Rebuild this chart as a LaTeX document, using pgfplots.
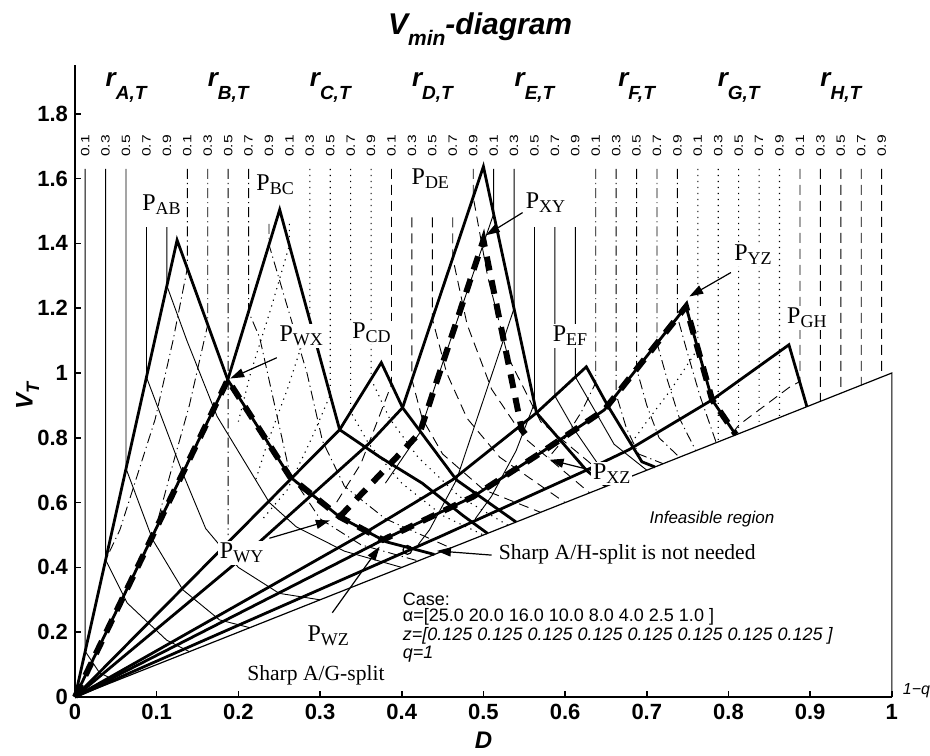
\documentclass[border=0pt]{standalone}
\usepackage{fontspec}
\setmainfont{Liberation Sans}
\newfontfamily\tms{Liberation Serif}
\usepackage{pgfplots}
\pgfplotsset{compat=1.18}
\usetikzlibrary{arrows.meta}

\tikzset{
  sA/.style={mark=none, line width=0.45pt},
  sB/.style={mark=none, line width=0.45pt, dash pattern=on 5pt off 2pt on 0.6pt off 2pt},
  sC/.style={mark=none, line width=0.55pt, dash pattern=on 0.6pt off 2.4pt},
  sD/.style={mark=none, line width=0.45pt, dash pattern=on 5pt off 3pt},
  thk/.style={mark=none, line width=1.4pt},
  thd/.style={mark=none, line width=3pt, dash pattern=on 7pt off 5pt},
  arr/.style={mark=none, line width=0.6pt, -{Triangle[length=7pt,width=4.5pt]}},
  toplab/.style={rotate=90, inner sep=0pt, font=\fontsize{6}{6}\selectfont},
  plab/.style={fill=white, inner sep=1pt},
}
\newcommand\PP[1]{{\tms\fontsize{12}{12}\selectfont P\raisebox{-0.35ex}{\fontsize{9}{9}\selectfont #1}}}
\newcommand\rr[1]{{\fontsize{13}{13}\selectfont\bfseries\itshape r\raisebox{-0.95ex}{\fontsize{9.5}{9.5}\selectfont #1,T}}}
\newcommand\rv[1]{\scalebox{1.3}[1]{#1}}

\begin{document}
\begin{tikzpicture}
\begin{axis}[
  scale only axis, width=408.5pt, height=316pt,
  xmin=0, xmax=1, ymin=0, ymax=1.95,
  axis lines=left, axis line style={-, line width=1.3pt},
  xtick={0,0.1,0.2,0.3,0.4,0.5,0.6,0.7,0.8,0.9,1},
  ytick={0,0.2,0.4,0.6,0.8,1,1.2,1.4,1.6,1.8},
  tick align=inside, major tick length=3pt, tick style={line width=0.8pt, black},
  tick label style={font=\fontsize{11}{11}\selectfont\bfseries},
  /pgf/number format/assume math mode=true,
  clip=false,
  unbounded coords=jump,
]
% frame of the whole picture
\path (axis cs:-0.0918,-0.1605) rectangle (axis cs:1.0465,2.151);

% boundary of the feasible region
\addplot[mark=none, line width=0.6pt] coordinates {(0,0) (1,1) (1,0)};

% group A, solid
\addplot[sA] coordinates {
 (0.0125,1.63) (0.0125,0.141) (0.03,0.075) (0.05,0.05) (nan,nan)
 (0.0375,1.63) (0.0375,0.423) (0.064,0.29) (0.112,0.176) (0.14,0.14) (nan,nan)
 (0.0625,1.63) (0.0625,0.705) (0.095,0.486) (0.132,0.331) (0.177,0.238) (0.214,0.214) (nan,nan)
 (0.0875,1.45) (0.0875,0.987) (0.132,0.69) (0.16,0.52) (0.2,0.4) (0.25,0.32) (0.3,0.3) (nan,nan)
 (0.1125,1.45) (0.1125,1.269) (0.137,1.10) (0.174,0.866) (0.238,0.6) (0.271,0.525) (0.33,0.45) (0.40,0.40)
};
% group B, dash-dot
\addplot[sB] coordinates {
 (0.1375,1.63) (0.1375,1.323) (0.12,1.10) (0.098,0.856) (0.055,0.516) (0.0375,0.423) (nan,nan)
 (0.1625,1.63) (0.1625,1.149) (0.14,0.9) (0.12,0.72) (0.095,0.486) (nan,nan)
 (0.1875,1.63) (0.1875,0.5) (nan,nan)
 (0.2125,1.63) (0.2125,1.189) (0.226,1.11) (0.263,0.69) (0.3,0.55) (0.35,0.47) (0.42,0.42) (nan,nan)
 (0.2375,1.46) (0.2375,1.396) (0.284,1.0) (0.303,0.79) (0.33,0.65) (0.38,0.55) (0.46,0.46)
};
% group C, dotted
\addplot[sC] coordinates {
 (0.2625,1.46) (0.2625,1.394) (0.24,1.2) (0.215,1.0) (0.2,0.85) (nan,nan)
 (0.2875,1.63) (0.2875,1.163) (0.26,0.95) (0.235,0.78) (0.22,0.66) (nan,nan)
 (0.3125,1.63) (0.3125,0.932) (0.29,0.8) (0.26,0.64) (0.23,0.55) (nan,nan)
 (0.3375,1.63) (0.3375,0.88) (0.36,0.78) (0.4,0.66) (0.45,0.56) (0.5,0.5) (nan,nan)
 (0.3625,1.63) (0.3625,0.981) (0.385,0.86) (0.42,0.74) (0.47,0.62) (0.53,0.53)
};
% group D, dashed
\addplot[sD] coordinates {
 (0.3875,1.63) (0.3875,0.965) (0.37,0.85) (0.35,0.72) (0.32,0.6) (nan,nan)
 (0.4125,1.48) (0.4125,0.979) (0.425,0.86) (0.45,0.75) (0.5,0.64) (0.57,0.57) (nan,nan)
 (0.4375,1.48) (0.4375,1.167) (0.455,1.0) (0.48,0.86) (0.52,0.74) (0.6,0.6) (nan,nan)
 (0.4625,1.48) (0.4625,1.355) (0.48,1.15) (0.51,0.95) (0.55,0.8) (0.63,0.63) (nan,nan)
 (0.4875,1.63) (0.4875,1.543) (0.505,1.3) (0.53,1.05) (0.57,0.85) (0.66,0.66)
};
% group E, solid
\addplot[sA] coordinates {
 (0.5125,1.63) (0.5125,1.491) (0.45,1.03) (0.422,0.815) (0.38,0.66) (nan,nan)
 (0.5375,1.63) (0.5375,1.199) (0.467,0.67) (0.434,0.516) (0.42,0.47) (nan,nan)
 (0.5625,1.45) (0.5625,0.907) (0.54,0.76) (0.51,0.62) (0.49,0.55) (nan,nan)
 (0.5875,1.45) (0.5875,0.929) (0.61,0.83) (0.64,0.72) (0.68,0.68) (nan,nan)
 (0.6125,1.45) (0.6125,0.988) (0.635,0.89) (0.66,0.78) (0.7,0.7)
};
% group F, dash-dot
\addplot[sB] coordinates {
 (0.6375,1.63) (0.6375,0.970) (0.62,0.88) (0.6,0.8) (0.58,0.74) (nan,nan)
 (0.6625,1.63) (0.6625,0.934) (0.675,0.83) (0.69,0.75) (0.72,0.72) (nan,nan)
 (0.6875,1.63) (0.6875,1.013) (0.7,0.9) (0.715,0.8) (0.74,0.74) (nan,nan)
 (0.7125,1.63) (0.7125,1.093) (0.725,0.98) (0.74,0.86) (0.76,0.76) (nan,nan)
 (0.7375,1.63) (0.7375,1.173) (0.75,1.06) (0.765,0.93) (0.785,0.785)
};
% group G, dotted
\addplot[sC] coordinates {
 (0.7625,1.63) (0.7625,1.075) (0.73,0.95) (0.7,0.85) (0.68,0.78) (nan,nan)
 (0.7875,1.63) (0.7875,0.7875) (nan,nan)
 (0.8125,1.63) (0.8125,0.8125) (nan,nan)
 (0.8375,1.63) (0.8375,0.8375) (nan,nan)
 (0.8625,1.63) (0.8625,0.8625)
};
% group H, dashed
\addplot[sD] coordinates {
 (0.8875,1.63) (0.8875,0.974) (0.874,0.955) (0.813,0.84) (0.8,0.8) (nan,nan)
 (0.9125,1.63) (0.9125,0.9125) (nan,nan)
 (0.9375,1.63) (0.9375,0.9375) (nan,nan)
 (0.9625,1.63) (0.9625,0.9625) (nan,nan)
 (0.9875,1.63) (0.9875,0.9875)
};

% thick Vmin lines, one per split
\addplot[thk] coordinates {(0,0) (0.125,1.41) (0.187,0.979) (0.263,0.68) (0.324,0.556) (0.381,0.479) (0.44,0.44)};
\addplot[thk] coordinates {(0,0) (0.187,0.979) (0.2506,1.504) (0.324,0.825) (0.373,0.741) (0.425,0.66) (0.475,0.56) (0.505,0.505)};
\addplot[thk] coordinates {(0,0) (0.324,0.825) (0.375,1.032) (0.401,0.893) (0.467,0.670) (0.54,0.54)};
\addplot[thk] coordinates {(0,0) (0.2,0.42) (0.361,0.785) (0.401,0.893) (0.5,1.637) (0.565,0.877) (0.626,0.70) (0.65,0.65)};
\addplot[thk] coordinates {(0,0) (0.361,0.516) (0.462,0.670) (0.565,0.877) (0.626,1.019) (0.652,0.90) (0.694,0.726) (0.71,0.71)};
\addplot[thk] coordinates {(0,0) (0.377,0.485) (0.487,0.618) (0.565,0.745) (0.648,0.886) (0.748,1.205) (0.78,0.917) (0.809,0.809)};
\addplot[thk] coordinates {(0,0) (0.446,0.494) (0.626,0.70) (0.678,0.763) (0.78,0.917) (0.874,1.087) (0.896,0.896)};

% thick dashed W-X-Y-Z path
\addplot[thd] coordinates {(0,0) (0.187,0.979) (0.263,0.68) (0.324,0.556) (0.377,0.485) (0.487,0.618) (0.565,0.745) (0.648,0.886) (0.748,1.205) (0.78,0.917) (0.809,0.81)};
\addplot[thd] coordinates {(0.324,0.556) (0.422,0.815) (0.5,1.41) (0.547,0.825) (0.555,0.80)};

% sharp A/H split point
\addplot[only marks, mark=o, mark size=2.2pt, line width=0.6pt] coordinates {(0.407,0.454)};

% arrows
\addplot[arr] coordinates {(0.247,1.047) (0.19,0.983)};
\addplot[arr] coordinates {(0.548,1.495) (0.503,1.425)};
\addplot[arr] coordinates {(0.803,1.31) (0.752,1.236)};
\addplot[arr] coordinates {(0.632,0.70) (0.581,0.732)};
\addplot[arr] coordinates {(0.238,0.49) (0.312,0.545)};
\addplot[arr] coordinates {(0.315,0.26) (0.373,0.464)};
\addplot[arr] coordinates {(0.51,0.438) (0.443,0.451)};

% labels of the peaks
\node[plab] at (axis cs:0.106,1.52) {\PP{AB}};
\node[plab] at (axis cs:0.245,1.58) {\PP{BC}};
\node[plab] at (axis cs:0.363,1.125) {\PP{CD}};
\node[plab] at (axis cs:0.435,1.60) {\PP{DE}};
\node[plab] at (axis cs:0.606,1.115) {\PP{EF}};
\node[plab] at (axis cs:0.896,1.17) {\PP{GH}};
\node[plab] at (axis cs:0.576,1.525) {\PP{XY}};
\node[plab] at (axis cs:0.83,1.365) {\PP{YZ}};
\node[plab] at (axis cs:0.277,1.115) {\PP{WX}};
\node[plab] at (axis cs:0.204,0.445) {\PP{WY}};
\node[plab] at (axis cs:0.31,0.19) {\PP{WZ}};
\node[plab] at (axis cs:0.657,0.69) {\PP{XZ}};

\node[anchor=west, inner sep=1pt] at (axis cs:0.516,0.44) {\tms\fontsize{10.8}{11}\selectfont Sharp A/H-split is not needed};
\node[inner sep=1pt] at (axis cs:0.295,0.068) {\tms\fontsize{10.8}{11}\selectfont Sharp A/G-split};
\node[anchor=west, inner sep=0pt] at (axis cs:0.703,0.549) {\fontsize{8.5}{9}\selectfont\itshape Infeasible region};
\node[anchor=north west, inner sep=0pt, align=left, font=\fontsize{9}{7.8}\selectfont] at (axis cs:0.401,0.322)
  {Case:\\ α=[25.0 20.0 16.0 10.0 8.0 4.0 2.5 1.0 ]\\ \itshape z=[0.125 0.125 0.125 0.125 0.125 0.125 0.125 0.125 ]\\ \itshape q=1};
\node[anchor=west, inner sep=0pt] at (axis cs:1.013,0.02) {\fontsize{8}{8}\selectfont\itshape 1−q};

% r values along the top
\foreach \d/\tv in {0.0125/0.1,0.0375/0.3,0.0625/0.5,0.0875/0.7,0.1125/0.9,
  0.1375/0.1,0.1625/0.3,0.1875/0.5,0.2125/0.7,0.2375/0.9,
  0.2625/0.1,0.2875/0.3,0.3125/0.5,0.3375/0.7,0.3625/0.9,
  0.3875/0.1,0.4125/0.3,0.4375/0.5,0.4625/0.7,0.4875/0.9,
  0.5125/0.1,0.5375/0.3,0.5625/0.5,0.5875/0.7,0.6125/0.9,
  0.6375/0.1,0.6625/0.3,0.6875/0.5,0.7125/0.7,0.7375/0.9,
  0.7625/0.1,0.7875/0.3,0.8125/0.5,0.8375/0.7,0.8625/0.9,
  0.8875/0.1,0.9125/0.3,0.9375/0.5,0.9625/0.7,0.9875/0.9}{
  \edef\temp{\noexpand\node[toplab] at (axis cs:\d,1.70) {\noexpand\rv{\tv}};}
  \temp
}
\foreach \d/\g in {0.0625/A,0.1875/B,0.3125/C,0.4375/D,0.5625/E,0.6875/F,0.8125/G,0.9375/H}{
  \edef\temp{\noexpand\node[inner sep=0pt] at (axis cs:\d,1.88) {\noexpand\rr{\g}};}
  \temp
}

% titles
\node at (axis cs:0.496,2.06) {\fontsize{15}{15}\selectfont\bfseries\itshape V\raisebox{-0.7ex}{\fontsize{10.5}{10.5}\selectfont min}-diagram};
\node at (axis cs:0.5,-0.133) {\fontsize{12}{12}\selectfont\bfseries\itshape D};
\node[rotate=90] at (axis cs:-0.058,0.93) {\fontsize{12}{12}\selectfont\bfseries\itshape V\raisebox{-0.5ex}{\fontsize{9}{9}\selectfont T}};
\end{axis}
\end{tikzpicture}
\end{document}
